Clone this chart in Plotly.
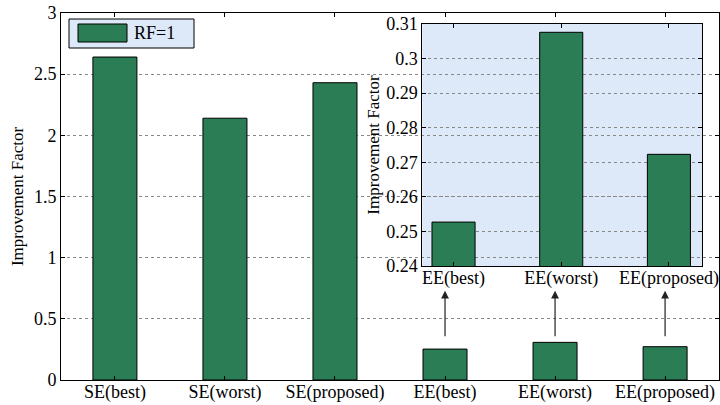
import plotly.graph_objects as go

categories = ["SE(best)", "SE(worst)", "SE(proposed)", "EE(best)", "EE(worst)", "EE(proposed)"]
values = [2.64, 2.14, 2.43, 0.2527, 0.3076, 0.2723]
inset_categories = ["EE(best)", "EE(worst)", "EE(proposed)"]
inset_values = [0.2527, 0.3076, 0.2723]
main_yticks = [0, 0.5, 1, 1.5, 2, 2.5, 3]
main_ytick_text = ["0", "0.5", "1", "1.5", "2", "2.5", "3"]
inset_yticks = [0.24, 0.25, 0.26, 0.27, 0.28, 0.29, 0.30, 0.31]
inset_ytick_text = ["0.24", "0.25", "0.26", "0.27", "0.28", "0.29", "0.3", "0.31"]
series_name = "RF=1"

GREEN = "#2b7d55"
INSET_BG = "#dde8f8"
FONT = "Liberation Serif"
W, H = 720, 405

def px(x):
    return x / W

def py(y):
    return 1 - y / H

fig = go.Figure()
fig.add_trace(go.Bar(x=categories, y=values, name=series_name, width=0.4,
                     marker=dict(color=GREEN, line=dict(color="black", width=1)),
                     xaxis="x", yaxis="y", showlegend=False))
fig.add_trace(go.Bar(x=inset_categories, y=inset_values, width=0.4,
                     marker=dict(color=GREEN, line=dict(color="black", width=1)),
                     xaxis="x2", yaxis="y2", showlegend=False))

def axis_common():
    return dict(showline=True, linecolor="black", linewidth=1, mirror="ticks",
                ticks="inside", ticklen=4, tickcolor="black", automargin=False,
                tickfont=dict(family=FONT, size=18, color="black"))

fig.update_layout(
    width=W, height=H, margin=dict(l=0, r=0, t=0, b=0, autoexpand=False),
    paper_bgcolor="white", plot_bgcolor="rgba(0,0,0,0)",
    font=dict(family=FONT, size=18, color="black"),
    xaxis=dict(domain=[px(61), px(719)], range=[-0.49, 5.49], showgrid=False,
               ticklabelstandoff=-5, **axis_common()),
    yaxis=dict(domain=[py(380), py(13)], range=[0, 3], tickvals=main_yticks,
               ticktext=main_ytick_text,
               showgrid=True, gridcolor="#888", griddash="dot", gridwidth=1,
               zeroline=False,
               title=dict(text="Improvement Factor", font=dict(family=FONT, size=17), standoff=5),
               **axis_common()),
    xaxis2=dict(domain=[px(422.3), px(702.3)], range=[-0.29, 2.31], anchor="y2",
                showgrid=False, ticklabelstandoff=-5, **axis_common()),
    yaxis2=dict(domain=[py(266), py(24)], range=[0.24, 0.31], anchor="x2",
                tickvals=inset_yticks, ticktext=inset_ytick_text,
                showgrid=True, gridcolor="#888", griddash="dot", gridwidth=1,
                zeroline=False,
                title=dict(text="Improvement Factor", font=dict(family=FONT, size=17), standoff=2),
                **axis_common()),
)

# inset background
fig.add_shape(type="rect", xref="x2 domain", yref="y2 domain", x0=0, x1=1, y0=0, y1=1,
              fillcolor=INSET_BG, line=dict(width=0), layer="below")

# legend box
fig.add_shape(type="rect", xref="paper", yref="paper", x0=px(69), x1=px(194), y0=py(48), y1=py(19),
              fillcolor=INSET_BG, line=dict(color="black", width=1))
fig.add_shape(type="rect", xref="paper", yref="paper", x0=px(78), x1=px(127), y0=py(42), y1=py(24),
              fillcolor=GREEN, line=dict(color="black", width=1))
fig.add_annotation(xref="paper", yref="paper", x=px(132), y=py(33), text=series_name,
                   showarrow=False, xanchor="left", yanchor="middle",
                   font=dict(family=FONT, size=18, color="black"))

# arrows from small EE bars to inset
for c in inset_categories:
    fig.add_annotation(x=c, y=0.73, ax=c, ay=0.345, xref="x", yref="y", axref="x", ayref="y",
                       text="", showarrow=True, arrowhead=2, arrowsize=1.3, arrowwidth=1.2,
                       arrowcolor="#222")

fig.write_html("out.html", config={"displayModeBar": False},
               post_script="document.body.style.margin='0';document.body.style.padding='0';")
